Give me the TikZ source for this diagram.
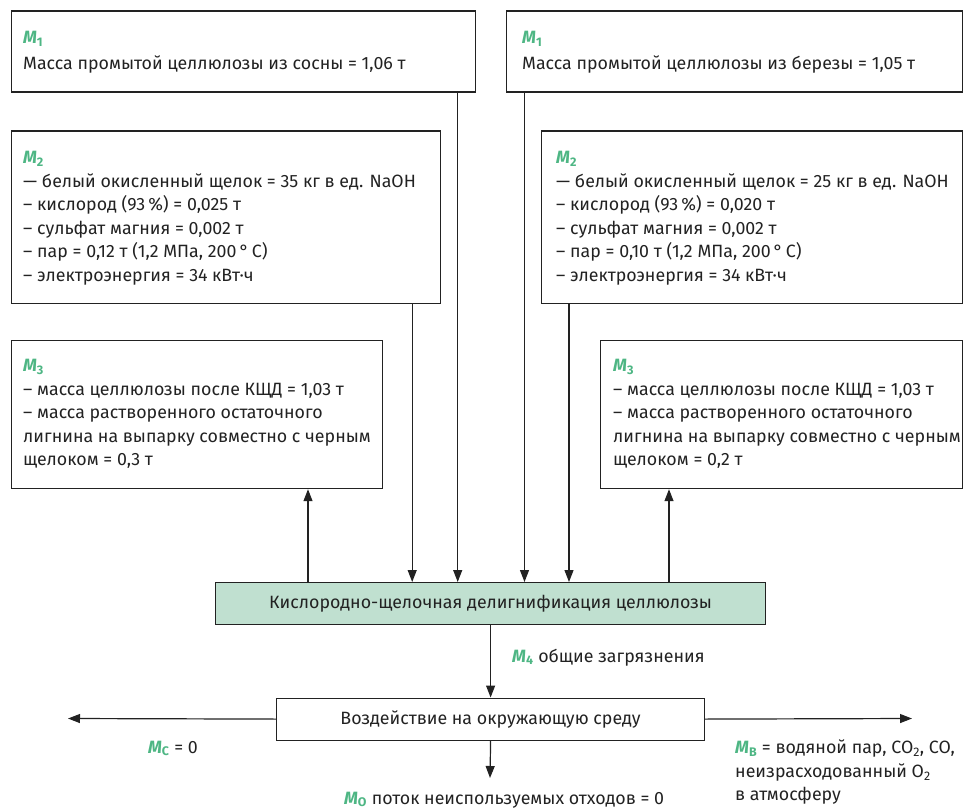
\documentclass[tikz,border=0pt]{standalone}
\usepackage{fontspec}
\setmainfont{Fira Sans}
\usetikzlibrary{arrows.meta}
\definecolor{mgreen}{RGB}{78,182,132}
\definecolor{procfill}{RGB}{192,224,208}
\definecolor{ink}{RGB}{34,34,34}
\newcommand\Mlab[1]{{\color{mgreen}\bfseries\itshape M\textsubscript{\upshape #1}}}
\tikzset{
  box/.style={draw=ink, line width=1.2pt, rectangle, anchor=north west, inner sep=0pt},
  txt/.style={anchor=north west, inner sep=0pt, align=left, text=ink,
    font=\fontsize{17.8}{23.5}\selectfont},
  lbl/.style={inner sep=0pt, text=ink, font=\fontsize{17.8}{23.5}\selectfont},
  link/.style={draw=ink, line width=1.2pt},
  arr/.style={link, -{Triangle[width=9pt,length=12pt]}},
}
\begin{document}
\begin{tikzpicture}[x=1pt,y=-1pt]
\useasboundingbox (0,0) rectangle (968,810);

% input boxes, pine (left) and birch (right)
\node[box, minimum width=464pt, minimum height=81pt] (m1l) at (10.5,10.5) {};
\node[box, minimum width=456pt, minimum height=81pt] (m1r) at (506,10.5) {};
\node[box, minimum width=429pt, minimum height=172pt] (m2l) at (10.5,130.5) {};
\node[box, minimum width=421pt, minimum height=172pt] (m2r) at (541,130.5) {};
\node[box, minimum width=371pt, minimum height=148pt] (m3l) at (10.5,340) {};
\node[box, minimum width=362pt, minimum height=148pt] (m3r) at (600,340) {};

\node[txt] (t1l) at (23,31) {\Mlab{1}\\[2pt]Масса промытой целлюлозы из сосны = 1,06 т};
\node[txt] (t1r) at (522,31) {\Mlab{1}\\[2pt]Масса промытой целлюлозы из березы = 1,05 т};
\node[txt] (t2l) at (23,151) {\Mlab{2}\\
— белый окисленный щелок = 35 кг в ед. NaOH\\
– кислород (93\,\%) = 0,025 т\\
– сульфат магния = 0,002 т\\
– пар = 0,12 т (1,2 МПа, 200\,°\,С)\\
– электроэнергия = 34 кВт·ч};
\node[txt] (t2r) at (556,151) {\Mlab{2}\\
— белый окисленный щелок = 25 кг в ед. NaOH\\
– кислород (93\,\%) = 0,020 т\\
– сульфат магния = 0,002 т\\
– пар = 0,10 т (1,2 МПа, 200\,°\,С)\\
– электроэнергия = 34 кВт·ч};
\node[txt] (t3l) at (23,359) {\Mlab{3}\\
– масса целлюлозы после КЩД = 1,03 т\\
– масса растворенного остаточного\\
лигнина на выпарку совместно с черным\\
щелоком = 0,3 т};
\node[txt] (t3r) at (613,359) {\Mlab{3}\\
– масса целлюлозы после КЩД = 1,03 т\\
– масса растворенного остаточного\\
лигнина на выпарку совместно с черным\\
щелоком = 0,2 т};

% process and environment boxes
\node[box, fill=procfill, minimum width=550pt, minimum height=41.5pt] (proc) at (215,582) {};
\node[lbl] at (proc.center) {Кислородно-щелочная делигнификация целлюлозы};
\node[box, minimum width=428pt, minimum height=42pt] (env) at (276,697.5) {};
\node[lbl] at (env.center) {Воздействие на окружающую среду};

% flows into the process
\draw[arr] ([xshift=-18pt]m1l.south east) -- ([xshift=-18pt]m1l.south east |- proc.north);
\draw[arr] ([xshift=-28.5pt]m2l.south east) -- ([xshift=-28.5pt]m2l.south east |- proc.north);
\draw[arr] ([xshift=18.5pt]m1r.south west) -- ([xshift=18.5pt]m1r.south west |- proc.north);
\draw[arr] ([xshift=28pt]m2r.south west) -- ([xshift=28pt]m2r.south west |- proc.north);
% flows out of the process
\coordinate (upl) at (308,582);
\coordinate (upr) at (669,582);
\draw[arr] (upl) -- (upl |- m3l.south);
\draw[arr] (upr) -- (upr |- m3r.south);
\draw[arr] (proc.south -| env.north) -- (env.north);
\node[lbl, anchor=base west] (m4) at (512,662) {\Mlab{4} общие загрязнения};

% environmental outputs
\coordinate (outl) at (68,718.5);
\coordinate (outr) at (912,718.5);
\coordinate (outd) at (490,778);
\draw[arr] (env.west) -- (outl);
\draw[arr] (env.east) -- (outr);
\draw[arr] (env.south) -- (outd);
\node[lbl, anchor=base west] (mc) at (148,753) {\Mlab{С} = 0};
\node[lbl, anchor=north west, align=left] (mb) at (735,740) {\Mlab{В} = водяной пар, СО\textsubscript{2}, СО,\\неизрасходованный О\textsubscript{2}\\в атмосферу};
\node[lbl, anchor=base west] (mo) at (344,804) {\Mlab{О} поток неиспользуемых отходов = 0};
\end{tikzpicture}
\end{document}
